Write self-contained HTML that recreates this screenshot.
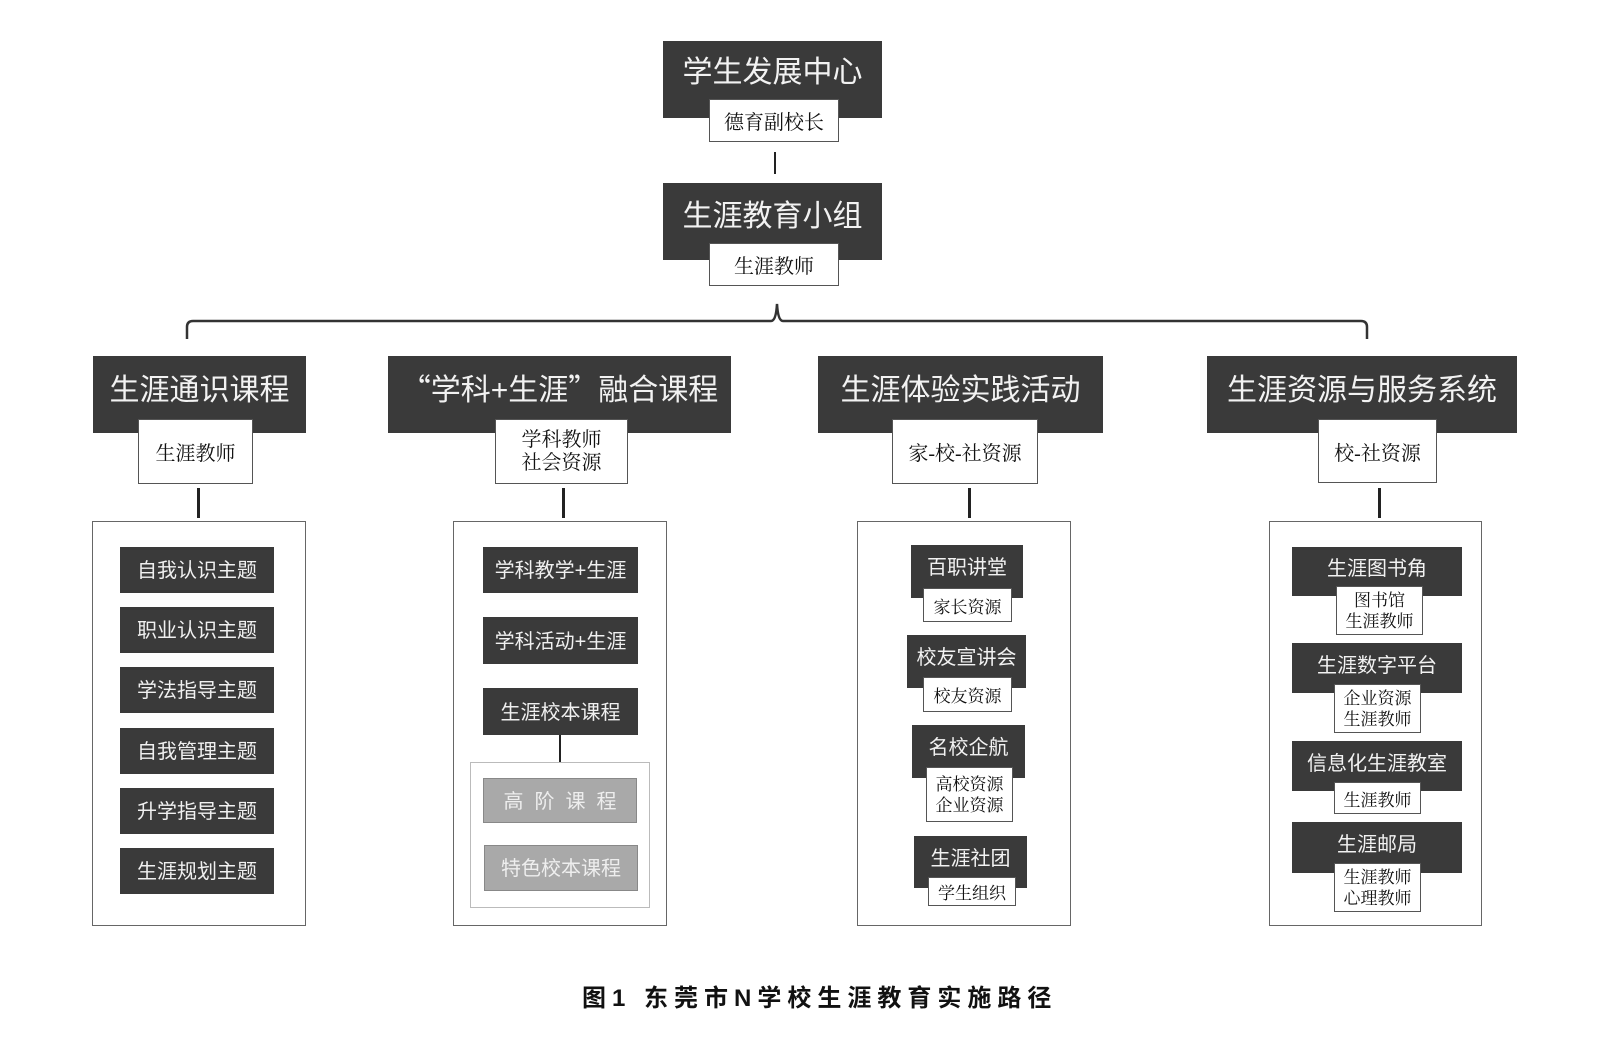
<!DOCTYPE html>
<html><head><meta charset="utf-8"><style>
html,body{margin:0;padding:0;background:#fff;}
body{width:1600px;height:1048px;position:relative;overflow:hidden;font-family:"Liberation Sans","Noto Sans CJK SC",sans-serif;}
.a{position:absolute;box-sizing:border-box;}
.dk{background:#3a3a3a;}
.t{position:absolute;left:0;right:0;display:flex;align-items:center;justify-content:center;color:#f2f2f2;white-space:nowrap;font-family:"Liberation Sans","Noto Sans CJK SC",sans-serif;}
.sb{background:#fff;border:1px solid #555;display:flex;align-items:center;justify-content:center;text-align:center;color:#111;font-family:"Liberation Serif","Noto Serif CJK SC",serif;white-space:nowrap;}
.ct{border:1px solid #666;background:#fff;}
.ln{background:#222;}
.it{background:#3a3a3a;color:#f0f0f0;display:flex;align-items:center;justify-content:center;font-size:20px;white-space:nowrap;padding-bottom:3px;}
.gr{background:#a9a9a9;border:1px solid #888;color:#eee;display:flex;align-items:center;justify-content:center;font-size:20px;white-space:nowrap;padding-bottom:3px;}
.cj{font-family:"Noto Sans CJK SC",sans-serif;}
</style></head><body>

<!-- top -->
<div class="a dk" style="left:663px;top:41px;width:219px;height:77px;"><div class="t" style="top:0;height:56px;font-size:30px;">学生发展中心</div></div>
<div class="a sb" style="left:709px;top:99px;width:130px;height:43px;font-size:20px;">德育副校长</div>
<div class="a ln" style="left:774px;top:152px;width:2px;height:22px;"></div>

<div class="a dk" style="left:663px;top:183px;width:219px;height:77px;"><div class="t" style="top:0;height:59px;font-size:30px;">生涯教育小组</div></div>
<div class="a sb" style="left:709px;top:243px;width:130px;height:43px;font-size:20px;">生涯教师</div>

<svg class="a" style="left:0;top:0;" width="1600" height="360">
<path d="M187 339 L187 327 Q187 321 193 321 L771 321 Q776 321 777 304 Q778 321 783 321 L1361 321 Q1367 321 1367 327 L1367 339" fill="none" stroke="#333" stroke-width="2.5"/>
</svg>

<!-- headers -->
<div class="a dk" style="left:93px;top:356px;width:213px;height:77px;"><div class="t" style="top:0;height:62px;font-size:30px;">生涯通识课程</div></div>
<div class="a sb" style="left:138px;top:419px;width:115px;height:65px;font-size:20px;">生涯教师</div>

<div class="a dk" style="left:388px;top:356px;width:343px;height:77px;"><div class="t" style="top:0;height:62px;font-size:30px;"><span class="cj">“</span>学科+生涯<span class="cj">”</span>融合课程</div></div>
<div class="a sb" style="left:495px;top:419px;width:133px;height:65px;font-size:20px;line-height:23px;">学科教师<br>社会资源</div>

<div class="a dk" style="left:818px;top:356px;width:285px;height:77px;"><div class="t" style="top:0;height:62px;font-size:30px;">生涯体验实践活动</div></div>
<div class="a sb" style="left:892px;top:419px;width:146px;height:65px;font-size:20px;">家-校-社资源</div>

<div class="a dk" style="left:1207px;top:356px;width:310px;height:77px;"><div class="t" style="top:0;height:62px;font-size:30px;">生涯资源与服务系统</div></div>
<div class="a sb" style="left:1318px;top:419px;width:119px;height:64px;font-size:20px;">校-社资源</div>

<!-- connectors -->
<div class="a ln" style="left:197px;top:488px;width:2.5px;height:30px;"></div>
<div class="a ln" style="left:562px;top:488px;width:2.5px;height:30px;"></div>
<div class="a ln" style="left:968px;top:488px;width:2.5px;height:30px;"></div>
<div class="a ln" style="left:1378px;top:488px;width:2.5px;height:30px;"></div>

<!-- containers -->
<div class="a ct" style="left:92px;top:521px;width:214px;height:405px;"></div>
<div class="a ct" style="left:453px;top:521px;width:214px;height:405px;"></div>
<div class="a ct" style="left:857px;top:521px;width:214px;height:405px;"></div>
<div class="a ct" style="left:1269px;top:521px;width:213px;height:405px;"></div>

<!-- C1 -->
<div class="a it" style="left:120px;top:547px;width:154px;height:46px;">自我认识主题</div>
<div class="a it" style="left:120px;top:607px;width:154px;height:46px;">职业认识主题</div>
<div class="a it" style="left:120px;top:667px;width:154px;height:46px;">学法指导主题</div>
<div class="a it" style="left:120px;top:728px;width:154px;height:46px;">自我管理主题</div>
<div class="a it" style="left:120px;top:788px;width:154px;height:46px;">升学指导主题</div>
<div class="a it" style="left:120px;top:848px;width:154px;height:46px;">生涯规划主题</div>

<!-- C2 -->
<div class="a it" style="left:483px;top:547px;width:155px;height:46px;">学科教学+生涯</div>
<div class="a it" style="left:483px;top:617px;width:155px;height:47px;">学科活动+生涯</div>
<div class="a it" style="left:483px;top:688px;width:155px;height:47px;">生涯校本课程</div>
<div class="a ln" style="left:559px;top:735px;width:2px;height:27px;"></div>
<div class="a" style="left:470px;top:762px;width:180px;height:146px;border:1px solid #bbb;"></div>
<div class="a gr" style="left:483px;top:778px;width:154px;height:45px;letter-spacing:11px;padding-left:11px;">高阶课程</div>
<div class="a gr" style="left:484px;top:845px;width:154px;height:46px;">特色校本课程</div>

<!-- C3 -->
<div class="a dk" style="left:911px;top:545px;width:112px;height:53px;"><div class="t" style="top:0;height:41px;font-size:20px;">百职讲堂</div></div>
<div class="a sb" style="left:923px;top:588px;width:89px;height:34px;font-size:17px;">家长资源</div>

<div class="a dk" style="left:907px;top:635px;width:119px;height:53px;"><div class="t" style="top:0;height:41px;font-size:20px;">校友宣讲会</div></div>
<div class="a sb" style="left:923px;top:677px;width:89px;height:35px;font-size:17px;">校友资源</div>

<div class="a dk" style="left:912px;top:725px;width:113px;height:53px;"><div class="t" style="top:0;height:41px;font-size:20px;">名校企航</div></div>
<div class="a sb" style="left:926px;top:767px;width:87px;height:55px;font-size:17px;line-height:21px;">高校资源<br>企业资源</div>

<div class="a dk" style="left:914px;top:836px;width:113px;height:52px;"><div class="t" style="top:0;height:40px;font-size:20px;">生涯社团</div></div>
<div class="a sb" style="left:928px;top:877px;width:88px;height:29px;font-size:17px;">学生组织</div>

<!-- C4 -->
<div class="a dk" style="left:1292px;top:547px;width:170px;height:49px;"><div class="t" style="top:0;height:39px;font-size:20px;">生涯图书角</div></div>
<div class="a sb" style="left:1336px;top:586px;width:87px;height:49px;font-size:17px;line-height:21px;">图书馆<br>生涯教师</div>

<div class="a dk" style="left:1292px;top:643px;width:170px;height:50px;"><div class="t" style="top:0;height:40px;font-size:20px;">生涯数字平台</div></div>
<div class="a sb" style="left:1334px;top:684px;width:87px;height:49px;font-size:17px;line-height:21px;">企业资源<br>生涯教师</div>

<div class="a dk" style="left:1292px;top:741px;width:170px;height:50px;"><div class="t" style="top:0;height:40px;font-size:20px;">信息化生涯教室</div></div>
<div class="a sb" style="left:1334px;top:782px;width:87px;height:32px;font-size:17px;">生涯教师</div>

<div class="a dk" style="left:1292px;top:822px;width:170px;height:51px;"><div class="t" style="top:0;height:40px;font-size:20px;">生涯邮局</div></div>
<div class="a sb" style="left:1334px;top:863px;width:87px;height:49px;font-size:17px;line-height:21px;">生涯教师<br>心理教师</div>

<!-- caption -->
<div class="a" style="left:582px;top:983px;height:32px;font-size:24px;font-weight:bold;letter-spacing:6px;color:#111;white-space:nowrap;line-height:32px;">图1 东莞市N学校生涯教育实施路径</div>

</body></html>
